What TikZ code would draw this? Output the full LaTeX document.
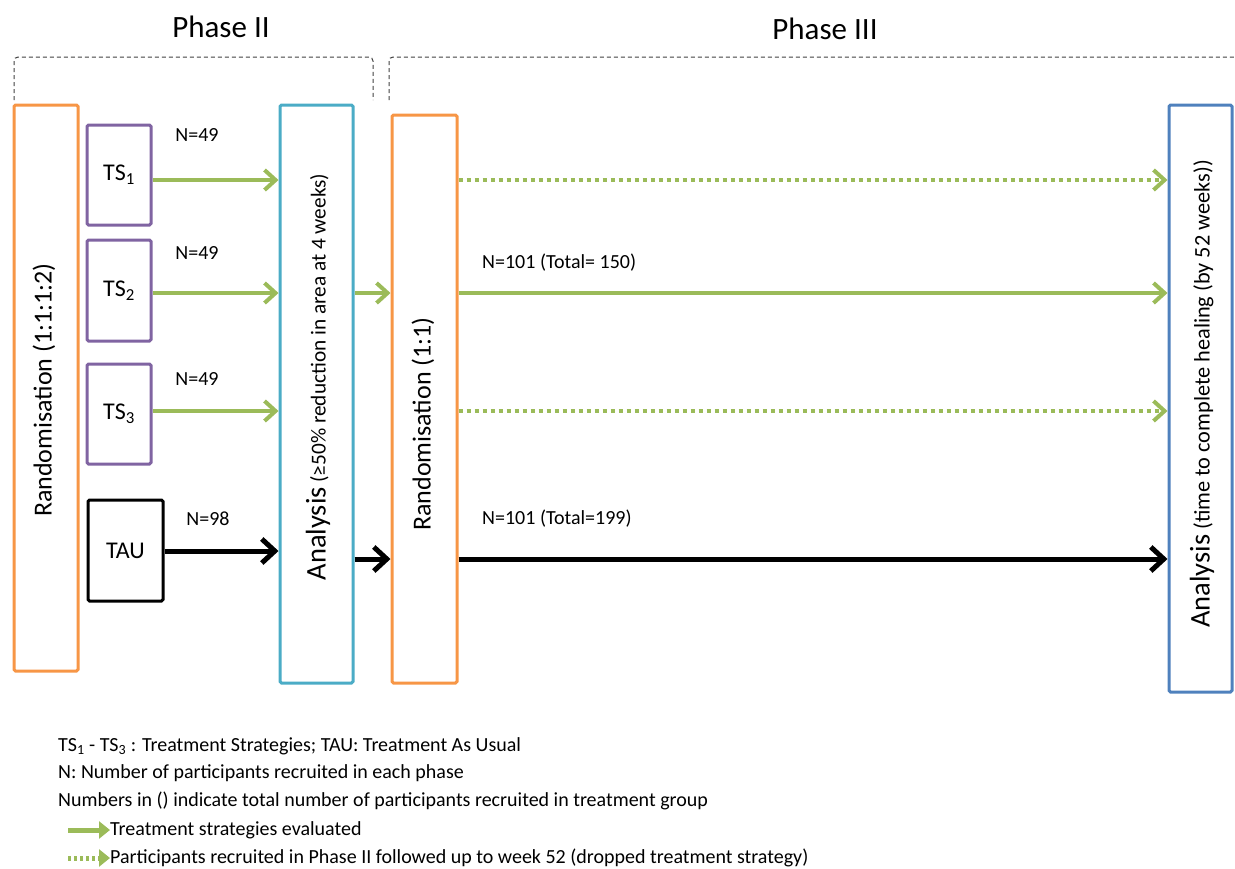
\documentclass[tikz,border=0pt]{standalone}
\usepackage{fontspec}
\setmainfont{Carlito}
\usetikzlibrary{arrows.meta}
\definecolor{orng}{HTML}{F79646}
\definecolor{purp}{HTML}{8064A2}
\definecolor{cyn}{HTML}{4BACC6}
\definecolor{blu}{HTML}{4F81BD}
\definecolor{grn}{HTML}{9BBB59}
\begin{document}
\begin{tikzpicture}[x=1pt,y=-1pt,
  box/.style={draw, line width=3pt, inner sep=0pt, rounded corners=1.5pt, fill=white},
  garrow/.style={draw=grn, line width=4pt, -{Straight Barb[length=11pt,width=20pt]}},
  darrow/.style={garrow, dash pattern=on 4pt off 4pt},
  karrow/.style={draw=black, line width=5pt, -{Straight Barb[length=13pt,width=24pt]}},
  lgarrow/.style={draw=grn, line width=5pt, -{Triangle[length=11pt,width=17pt]}},
  ldarrow/.style={lgarrow, dash pattern=on 3pt off 3pt},
  lbl/.style={font=\fontsize{20}{24}\selectfont, inner sep=0pt},
  leg/.style={font=\fontsize{20}{24}\selectfont, inner sep=0pt, anchor=west},
  phase/.style={font=\fontsize{31}{36}\selectfont, inner sep=0pt},
  bracket/.style={draw=black!75, line width=1pt, dash pattern=on 4pt off 3pt, rounded corners=4pt},
  big/.style={font=\fontsize{26}{30}\selectfont, inner sep=0pt, rotate=90},
  tsf/.style={font=\fontsize{24}{28}\selectfont}
]
\useasboundingbox (0,0) rectangle (1235,868);

% phase headings and brackets
\node[phase] (p2) at (221,27) {Phase II};
\node[phase] (p3) at (825,29) {Phase III};
\draw[bracket] (14,100) -- (14,57) -- (373,57) -- (373,100);
\draw[bracket] (389,100) -- (389,57) -- (1235,57);

% boxes
\node[box, draw=orng, minimum width=64pt, minimum height=566pt] (r1) at (46,388) {};
\node[box, draw=purp, minimum width=64pt, minimum height=100pt, tsf] (ts1) at (119,175) {TS\textsubscript{1}};
\node[box, draw=purp, minimum width=64pt, minimum height=101pt, tsf] (ts2) at (119,290.5) {TS\textsubscript{2}};
\node[box, draw=purp, minimum width=64pt, minimum height=100pt, tsf] (ts3) at (119,414) {TS\textsubscript{3}};
\node[box, draw=black, minimum width=75pt, minimum height=101pt, tsf] (tau) at (125.5,550.5) {TAU};
\node[box, draw=cyn, minimum width=73pt, minimum height=578pt] (a1) at (316.5,394) {};
\node[box, draw=orng, minimum width=65pt, minimum height=568pt] (r2) at (424.5,399) {};
\node[box, draw=blu, minimum width=63pt, minimum height=587pt] (a2) at (1200.5,398.5) {};

% rotated texts
\node[big] (r1t) at (44,390) {Randomisation (1:1:1:2)};
\node[big] (r2t) at (423,424) {Randomisation (1:1)};
\node[inner sep=0pt, rotate=90] (a1t) at (318,377) {\fontsize{28.5}{32}\selectfont Analysis\fontsize{21.3}{25}\selectfont{} (≥50\% reduction in area at 4 weeks)};
\node[inner sep=0pt, rotate=90] (a2t) at (1202,394) {\fontsize{28.5}{32}\selectfont Analysis\fontsize{22.3}{26}\selectfont{} (time to complete healing (by 52 weeks))};

% helper levels
\coordinate (y1) at (0,180);
\coordinate (y2) at (0,293);
\coordinate (y3) at (0,411);
\coordinate (y4) at (0,551);
\coordinate (y5) at (0,559);

% phase II arrows
\draw[garrow] (ts1.east |- y1) -- (a1.west |- y1);
\draw[garrow] (ts2.east |- y2) -- (a1.west |- y2);
\draw[garrow] (ts3.east |- y3) -- (a1.west |- y3);
\draw[karrow] (tau.east |- y4) -- (a1.west |- y4);
\node[lbl] (n1) at (197,135) {N=49};
\node[lbl] (n2) at (197,253) {N=49};
\node[lbl] (n3) at (197,379) {N=49};
\node[lbl] (n4) at (208,519) {N=98};

% between
\draw[garrow] (a1.east |- y2) -- (r2.west |- y2);
\draw[karrow] (a1.east |- y5) -- (r2.west |- y5);

% phase III arrows
\draw[darrow] (r2.east |- y1) -- (a2.west |- y1);
\draw[garrow] (r2.east |- y2) -- (a2.west |- y2);
\draw[darrow] (r2.east |- y3) -- (a2.west |- y3);
\draw[karrow] (r2.east |- y5) -- (a2.west |- y5);
\node[lbl, anchor=west] (n5) at (482,263) {N=101 (Total= 150)};
\node[lbl, anchor=west] (n6) at (482,519) {N=101 (Total=199)};

% legend
\node[leg] (l1) at (58,746) {TS\textsubscript{1} - TS\textsubscript{3} : Treatment Strategies; TAU: Treatment As Usual};
\node[leg] (l2) at (58,773) {N: Number of participants recruited in  each phase};
\node[leg] (l3) at (58,801) {Numbers in () indicate total number of participants recruited in  treatment group};
\node[leg] (l4) at (110,830) {Treatment strategies evaluated};
\node[leg] (l5) at (110,858) {Participants recruited in Phase II followed up to week 52 (dropped treatment strategy)};
\coordinate (la) at (68,830);
\coordinate (lb) at (68,858);
\draw[lgarrow] (la) -- (l4.west);
\draw[ldarrow] (lb) -- (l5.west);
\end{tikzpicture}
\end{document}
